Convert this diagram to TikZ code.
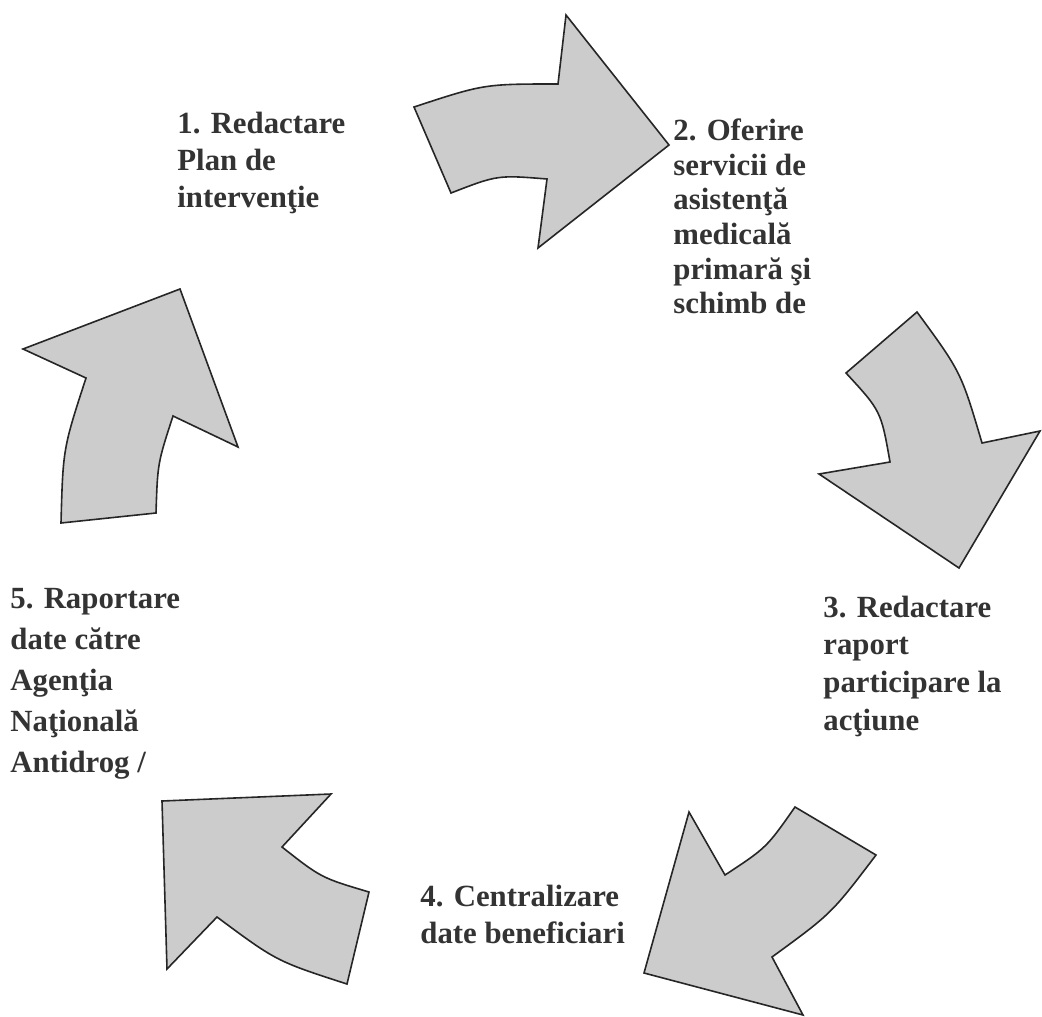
\documentclass[tikz,border=0pt]{standalone}
\usepackage{fontspec}
\setmainfont{Liberation Serif}
\begin{document}
\begin{tikzpicture}[x=0.5pt,y=-0.5pt,
  arw/.style={draw=black!85,fill=black!20,line width=0.8pt,line join=miter},
  lbl/.style={anchor=base west,inner sep=0pt,text=black!80,font=\bfseries\fontsize{15.4}{#1}\selectfont},
  lbl/.default=18.5]
\useasboundingbox (0,0) rectangle (1042,1016);
\draw[arw] (414,107) .. controls (484,84) .. (558,84) -- (566,15) -- (669,145) -- (538,248) -- (547,179) .. controls (497.5,175) .. (451,193) -- cycle;
\draw[arw] (917,312) .. controls (961,372) .. (982,443) -- (1040,431) -- (959,568) -- (819,474) -- (890,462) .. controls (881,411) .. (846,373) -- cycle;
\draw[arw] (876,855) .. controls (831.5,913.6) .. (772,957) -- (803,1015) -- (644,973) -- (689,812) -- (725,875) .. controls (766.5,847.7) .. (795,807) -- cycle;
\draw[arw] (369,892) .. controls (321.2,877.8) .. (282,847) -- (331,794) -- (162,801) -- (167,969) -- (217,917) .. controls (276.5,961.2) .. (347,984) -- cycle;
\draw[arw] (156,513) .. controls (157.6,463.3) .. (173,416) -- (238,447) -- (180,289) -- (23,349) -- (86,378) .. controls (63,448.7) .. (61,523) -- cycle;
\node[lbl=18.25] (Re) at (177,134) {\begin{tabular}[t]{@{}l@{}}1. Redactare\\Plan de\\intervenţie\end{tabular}};
\node[lbl=17.25] (Of) at (673,141) {\begin{tabular}[t]{@{}l@{}}2. Oferire\\servicii de\\asistenţă\\medicală\\primară şi\\schimb de\end{tabular}};
\node[lbl=18.85] (Ra) at (823,617) {\begin{tabular}[t]{@{}l@{}}3. Redactare\\raport\\participare la\\acţiune\end{tabular}};
\node[lbl] (Ce) at (420,906) {\begin{tabular}[t]{@{}l@{}}4. Centralizare\\date beneficiari\end{tabular}};
\node[lbl=20.5] (Ag) at (10,608) {\begin{tabular}[t]{@{}l@{}}5. Raportare\\date către\\Agenţia\\Naţională\\Antidrog /\end{tabular}};
\end{tikzpicture}
\end{document}
